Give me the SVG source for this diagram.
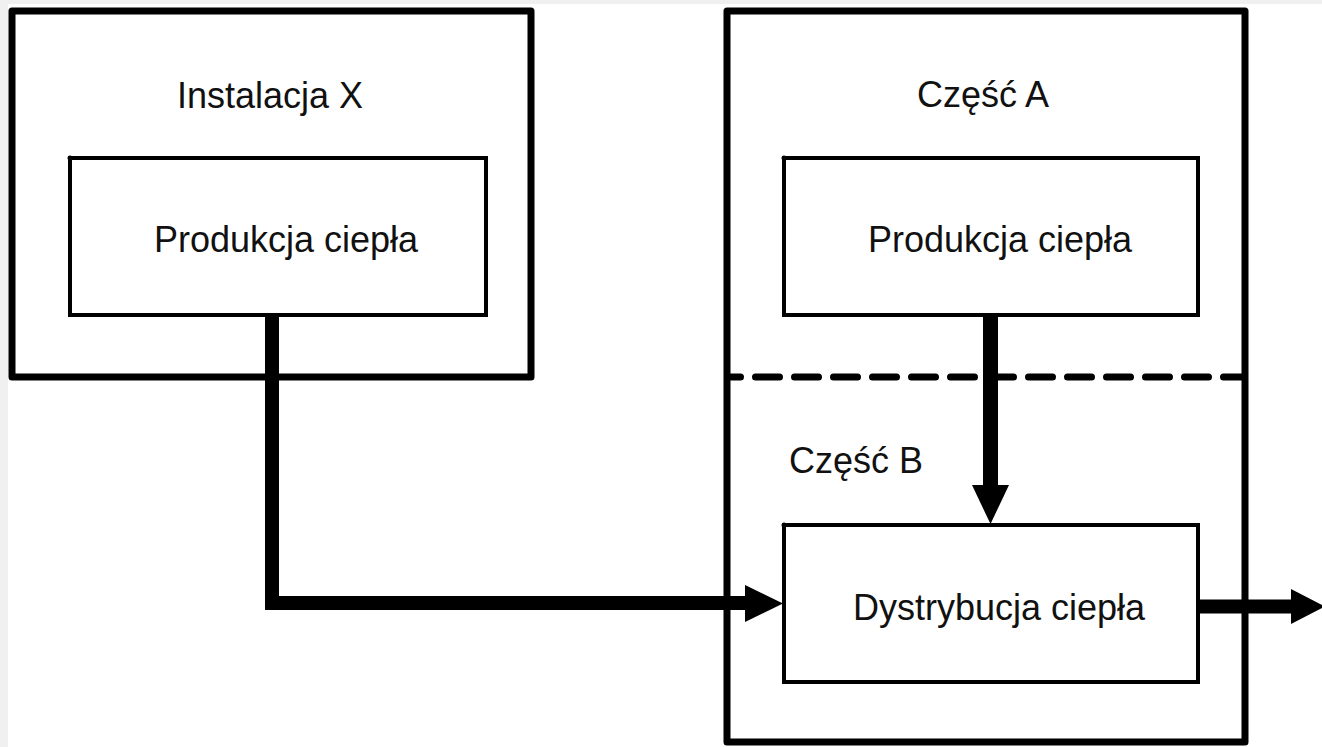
<svg xmlns="http://www.w3.org/2000/svg" width="1322" height="747" viewBox="0 0 1322 747">
  <defs>
    <style>
      .outer { fill: none; stroke: #000; stroke-width: 7; stroke-linejoin: round; }
      .inner { fill: #fff; stroke: #000; stroke-width: 4; }
      .lbl { font-family: "Liberation Sans", Arial, sans-serif; font-size: 36px; fill: #111; }
      .mid { text-anchor: middle; }
      .flow { fill: none; stroke: #000; stroke-width: 14; stroke-linejoin: miter; }
      .head { fill: #000; }
      .dash { fill: none; stroke: #000; stroke-width: 7; stroke-linecap: round; stroke-dasharray: 24 15; stroke-dashoffset: 14.5; }
    </style>
  </defs>
  <rect x="0" y="0" width="1322" height="747" fill="#fff"/>
  <rect x="0" y="0" width="1322" height="4" fill="#f0f0f0"/>
  <rect x="0" y="0" width="8" height="747" fill="#f0f0f0"/>

  <g id="instalacja-x">
    <rect class="outer" x="12" y="11" width="519" height="366"/>
    <text class="lbl mid" x="270" y="108">Instalacja X</text>
  </g>
  <g id="produkcja-x">
    <rect class="inner" x="70" y="158" width="416" height="157"/>
    <circle cx="70" cy="158" r="2.5" fill="#000"/>
    <text class="lbl mid" x="286" y="252">Produkcja ciepła</text>
  </g>

  <g id="czesc-a">
    <rect class="outer" x="727" y="11" width="518" height="731"/>
    <text class="lbl mid" x="983" y="107">Część A</text>
  </g>
  <g id="produkcja-a">
    <rect class="inner" x="784" y="158" width="414" height="157"/>
    <circle cx="784" cy="158" r="2.5" fill="#000"/>
    <text class="lbl mid" x="1000" y="252">Produkcja ciepła</text>
  </g>
  <g id="czesc-b">
    <path class="dash" d="M731,377 H1241"/>
    <text class="lbl" x="789" y="473">Część B</text>
  </g>
  <g id="dystrybucja">
    <rect class="inner" x="784" y="525" width="414" height="157"/>
    <circle cx="784" cy="525" r="2.5" fill="#000"/>
    <text class="lbl mid" x="999" y="620">Dystrybucja ciepła</text>
  </g>

  <g id="connectors">
    <path class="flow" d="M272,315 V603 H748"/>
    <polygon class="head" points="745,585 783,603.5 745,622"/>
    <path class="flow" d="M990.5,317 V487" style="stroke-width:15"/>
    <polygon class="head" points="972,485 1009,485 990.5,524"/>
    <path class="flow" d="M1198,606.5 H1293"/>
    <polygon class="head" points="1291,589 1325,606.5 1291,624"/>
  </g>
</svg>
